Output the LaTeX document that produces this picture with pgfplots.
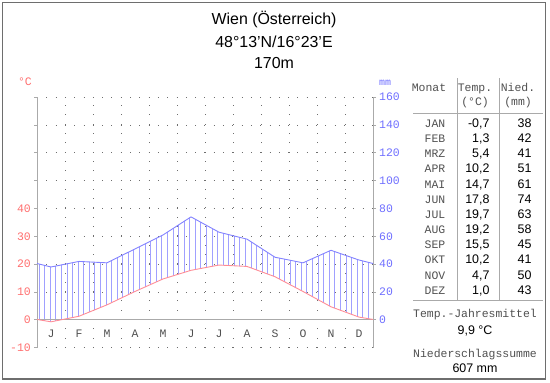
\documentclass[border=0pt]{standalone}
\usepackage{fontspec}
\setmainfont{Liberation Sans}
\newfontfamily\mono{Liberation Mono}
\usepackage{pgfplots}
\usepackage{pgfplotstable}
\pgfplotsset{compat=1.18}
\usepgfplotslibrary{fillbetween}
\usetikzlibrary{patterns.meta}
\definecolor{tred}{RGB}{255,110,110}
\definecolor{tline}{RGB}{255,140,150}
\definecolor{pblue}{RGB}{110,110,255}
\definecolor{pline}{RGB}{130,130,255}
\definecolor{hatch}{RGB}{160,160,255}
\definecolor{axgray}{RGB}{170,170,170}
\definecolor{dotgray}{RGB}{110,110,110}
\definecolor{framegray}{RGB}{110,110,110}
\definecolor{txtgray}{RGB}{80,80,80}
\newcommand\tickfont{\mono\fontsize{11.5}{12}\selectfont}
\newcommand\tabfont{\mono\fontsize{11.5}{12}\selectfont}
\newcommand\numfont{\fontsize{12.5}{13}\selectfont}

\pgfplotstableread{
x t p
0 0.15 40.5
0.5 -0.7 38
1.5 1.3 42
2.5 5.4 41
3.5 10.2 51
4.5 14.7 61
5.5 17.8 74
6.5 19.7 63
7.5 19.2 58
8.5 15.5 45
9.5 10.2 41
10.5 4.7 50
11.5 1.0 43
12 0.15 40.5
}\climate

\begin{document}
\begin{tikzpicture}
\begin{scope}[x=1bp,y=1bp]
\useasboundingbox (0,0) rectangle (550,382);
\draw[framegray,line width=1.2bp] (2.5,3) rectangle (545.5,379.5);
\node[anchor=base,font=\fontsize{16}{18}\selectfont] at (274,358) {Wien (Österreich)};
\node[anchor=base,font=\fontsize{16}{18}\selectfont] at (274,335) {48°13'N/16°23'E};
\node[anchor=base,font=\fontsize{16}{18}\selectfont] at (274,314) {170m};
\node[anchor=base,font=\tickfont,text=tred] at (25,297) {°C};
\node[anchor=base,font=\mono\fontsize{10}{11}\selectfont,text=pblue] at (385,297) {mm};
\end{scope}

\begin{axis}[at={(37bp,34.3bp)}, anchor=south west, scale only axis,
  width=336bp, height=250.5bp, xmin=0, xmax=12, ymin=-10, ymax=80,
  axis line style={draw=none}, clip=false,
  xtick={1,2,3,4,5,6,7,8,9,10,11}, xticklabel=\empty, xtick style={draw=none},
  ytick={-10,0,10,20,30,40,50,60,70,80}, yticklabels={-10,0,10,20,30,40,{},{},{},{}},
  ytick pos=left, tick align=outside, major tick length=3bp,
  ytick style={axgray,line width=0.8bp},
  grid=major, grid style={dotgray,line width=0.8bp,dash pattern=on 0.8bp off 8.5bp},
  yticklabel style={font=\tickfont,text=tred,inner sep=0pt,xshift=-3bp},
]
\draw[axgray,line width=0.9bp] (axis cs:0,-10) -- (axis cs:0,80);
\draw[axgray,line width=0.9bp] (axis cs:12,-10) -- (axis cs:12,80);
\draw[axgray,line width=0.9bp] (axis cs:0,0) -- (axis cs:12,0);
\addplot[name path=P, pline, line width=0.9bp] table[x=x, y expr=\thisrow{p}/2]{\climate};
\addplot[name path=T, tline, line width=0.9bp] table[x=x, y=t]{\climate};
\addplot[pattern={Lines[angle=90,distance=5.58bp,line width=0.9bp]}, pattern color=hatch, draw=none] fill between[of=P and T];
\end{axis}

\begin{axis}[at={(37bp,34.3bp)}, anchor=south west, scale only axis,
  width=336bp, height=250.5bp, xmin=0, xmax=12, ymin=-10, ymax=80,
  axis line style={draw=none}, hide y axis,
  xtick={0.5,1.5,2.5,3.5,4.5,5.5,6.5,7.5,8.5,9.5,10.5,11.5},
  xticklabels={J,F,M,A,M,J,J,A,S,O,N,D}, xtick style={draw=none},
  xticklabel style={font=\tickfont,text=txtgray,anchor=center,yshift=14bp},
]
\addplot[draw=none] table[x=x, y=t]{\climate};
\end{axis}

\begin{axis}[at={(37bp,34.3bp)}, anchor=south west, scale only axis,
  width=336bp, height=250.5bp, xmin=0, xmax=12, ymin=-20, ymax=160,
  axis line style={draw=none}, xtick=\empty,
  ytick={0,20,40,60,80,100,120,140,160}, yticklabels={0,20,40,60,80,100,120,140,160},
  ytick pos=right, yticklabel pos=right, tick align=outside, major tick length=3bp,
  ytick style={axgray,line width=0.8bp},
  yticklabel style={font=\tickfont,text=pblue,inner sep=0pt,xshift=3bp},
]
\addplot[draw=none] table[x=x, y=p]{\climate};
\end{axis}

\begin{scope}[x=1bp,y=1bp]
\draw[axgray,line width=0.9bp] (457,304) -- (457,82);
\draw[axgray,line width=0.9bp] (499,304) -- (499,82);
\draw[axgray,line width=0.9bp] (413,269) -- (543,269);
\draw[axgray,line width=0.9bp] (413,82) -- (543,82);
\node[anchor=base,font=\tabfont,text=txtgray] at (429,290.7) {Monat};
\node[anchor=base,font=\tabfont,text=txtgray] at (475,290.7) {Temp.};
\node[anchor=base,font=\tabfont,text=txtgray] at (518,290.7) {Nied.};
\node[anchor=base,font=\tabfont,text=txtgray] at (475,277) {(°C)};
\node[anchor=base,font=\tabfont,text=txtgray] at (518,277) {(mm)};

\node[anchor=base,font=\tabfont,text=txtgray] at (435,254.7) {JAN};
\node[anchor=base,font=\tabfont,text=txtgray] at (435,239.5) {FEB};
\node[anchor=base,font=\tabfont,text=txtgray] at (435,224.3) {MRZ};
\node[anchor=base,font=\tabfont,text=txtgray] at (435,209.2) {APR};
\node[anchor=base,font=\tabfont,text=txtgray] at (435,194.0) {MAI};
\node[anchor=base,font=\tabfont,text=txtgray] at (435,178.8) {JUN};
\node[anchor=base,font=\tabfont,text=txtgray] at (435,163.6) {JUL};
\node[anchor=base,font=\tabfont,text=txtgray] at (435,148.4) {AUG};
\node[anchor=base,font=\tabfont,text=txtgray] at (435,133.3) {SEP};
\node[anchor=base,font=\tabfont,text=txtgray] at (435,118.1) {OKT};
\node[anchor=base,font=\tabfont,text=txtgray] at (435,102.9) {NOV};
\node[anchor=base,font=\tabfont,text=txtgray] at (435,87.7) {DEZ};

\node[anchor=base east,font=\numfont] at (493,254.7) {-0,7};
\node[anchor=base east,font=\numfont] at (493,239.5) {1,3};
\node[anchor=base east,font=\numfont] at (493,224.3) {5,4};
\node[anchor=base east,font=\numfont] at (493,209.2) {10,2};
\node[anchor=base east,font=\numfont] at (493,194.0) {14,7};
\node[anchor=base east,font=\numfont] at (493,178.8) {17,8};
\node[anchor=base east,font=\numfont] at (493,163.6) {19,7};
\node[anchor=base east,font=\numfont] at (493,148.4) {19,2};
\node[anchor=base east,font=\numfont] at (493,133.3) {15,5};
\node[anchor=base east,font=\numfont] at (493,118.1) {10,2};
\node[anchor=base east,font=\numfont] at (493,102.9) {4,7};
\node[anchor=base east,font=\numfont] at (493,87.7) {1,0};

\node[anchor=base east,font=\numfont] at (535,254.7) {38};
\node[anchor=base east,font=\numfont] at (535,239.5) {42};
\node[anchor=base east,font=\numfont] at (535,224.3) {41};
\node[anchor=base east,font=\numfont] at (535,209.2) {51};
\node[anchor=base east,font=\numfont] at (535,194.0) {61};
\node[anchor=base east,font=\numfont] at (535,178.8) {74};
\node[anchor=base east,font=\numfont] at (535,163.6) {63};
\node[anchor=base east,font=\numfont] at (535,148.4) {58};
\node[anchor=base east,font=\numfont] at (535,133.3) {45};
\node[anchor=base east,font=\numfont] at (535,118.1) {41};
\node[anchor=base east,font=\numfont] at (535,102.9) {50};
\node[anchor=base east,font=\numfont] at (535,87.7) {43};

\node[anchor=base,font=\tabfont,text=txtgray] at (475,65) {Temp.-Jahresmittel};
\node[anchor=base,font=\numfont] at (475,47.5) {9,9 °C};
\node[anchor=base,font=\tabfont,text=txtgray] at (475,25) {Niederschlagssumme};
\node[anchor=base,font=\numfont] at (475,9.5) {607 mm};
\end{scope}
\end{tikzpicture}
\end{document}
